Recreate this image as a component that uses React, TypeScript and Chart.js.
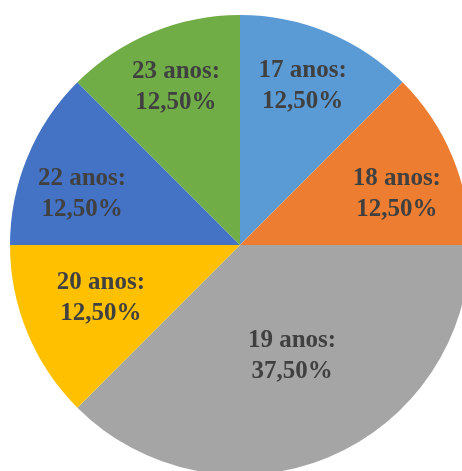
import React, { useEffect, useRef } from "react";
import { Chart, registerables } from "chart.js";

Chart.register(...registerables);

const categories = ["17 anos", "18 anos", "19 anos", "20 anos", "22 anos", "23 anos"];
const values = [12.5, 12.5, 37.5, 12.5, 12.5, 12.5];
const percentLabels = ["12,50%", "12,50%", "37,50%", "12,50%", "12,50%", "12,50%"];
const colors = ["#5B9BD5", "#ED7D31", "#A5A5A5", "#FFC000", "#4472C4", "#70AD47"];
const labelRadius = [0.743, 0.717, 0.535, 0.648, 0.722, 0.743];
const labelAngleShiftDeg = [-1, 4.5, -2.5, 1.5, -4.5, 0.5];

const labelPlugin = {
  id: "sliceLabels",
  afterDatasetsDraw(chart: any) {
    const ctx = chart.ctx;
    const meta = chart.getDatasetMeta(0);
    ctx.save();
    ctx.font = "bold 25px 'Liberation Serif', 'Times New Roman', serif";
    ctx.fillStyle = "#404040";
    ctx.textAlign = "center";
    ctx.textBaseline = "middle";
    meta.data.forEach((arc: any, i: number) => {
      const { x, y, startAngle, endAngle, outerRadius } = arc.getProps(
        ["x", "y", "startAngle", "endAngle", "outerRadius"],
        true
      );
      const mid = (startAngle + endAngle) / 2 + (labelAngleShiftDeg[i] * Math.PI) / 180;
      const r = outerRadius * labelRadius[i];
      const cx = x + Math.cos(mid) * r;
      const cy = y + Math.sin(mid) * r;
      ctx.fillText(categories[i] + ":", cx, cy - 15.5);
      ctx.fillText(percentLabels[i], cx, cy + 15.5);
    });
    ctx.restore();
  },
};

export default function App() {
  const ref = useRef<HTMLCanvasElement | null>(null);
  useEffect(() => {
    if (!ref.current) return;
    const chart = new Chart(ref.current, {
      type: "pie",
      data: {
        labels: categories,
        datasets: [
          {
            data: values,
            backgroundColor: colors,
            borderWidth: 0,
          },
        ],
      },
      options: {
        responsive: false,
        animation: false,
        layout: { padding: { left: 10, right: 10, top: 15, bottom: 15 } },
        plugins: {
          legend: { display: false },
          tooltip: { enabled: false },
        },
      },
      plugins: [labelPlugin],
    });
    return () => chart.destroy();
  }, []);
  return (
    <div
      style={{
        position: "fixed",
        left: 0,
        top: 0,
        width: 462,
        height: 471,
        overflow: "hidden",
        background: "#fff",
      }}
    >
      <canvas ref={ref} width={480} height={490} style={{ display: "block", width: 480, height: 490 }} />
    </div>
  );
}
